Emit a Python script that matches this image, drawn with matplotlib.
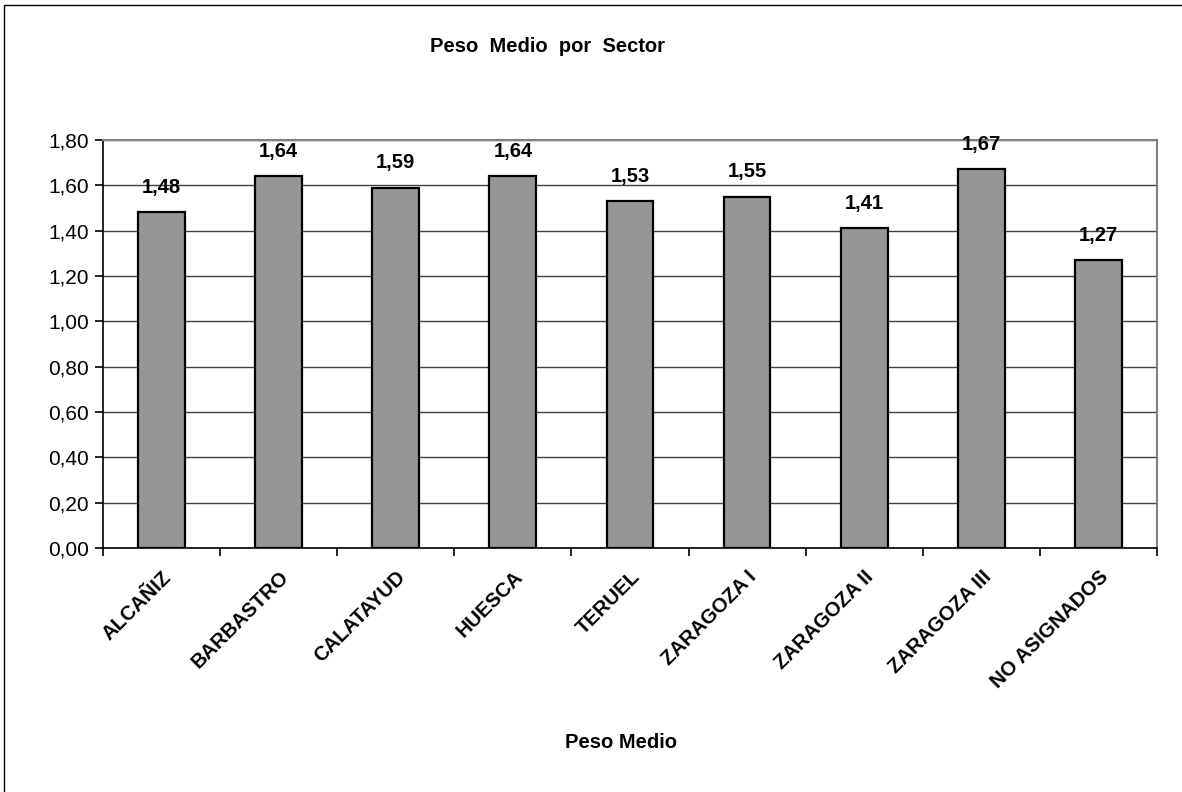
import matplotlib.pyplot as plt
from matplotlib.patches import Rectangle

plt.rcParams['font.family'] = ['Liberation Sans', 'DejaVu Sans']

sectores = ['ALCAÑIZ', 'BARBASTRO', 'CALATAYUD', 'HUESCA', 'TERUEL',
            'ZARAGOZA I', 'ZARAGOZA II', 'ZARAGOZA III', 'NO ASIGNADOS']
peso_medio = [1.48, 1.64, 1.59, 1.64, 1.53, 1.55, 1.41, 1.67, 1.27]
y_ticks = [0.0, 0.2, 0.4, 0.6, 0.8, 1.0, 1.2, 1.4, 1.6, 1.8]

fig = plt.figure(figsize=(11.82, 7.92), dpi=100)
ax = fig.add_axes([0.0871, 0.3081, 0.8917, 0.5152])

# marco exterior
fig.patches.append(Rectangle((4 / 1182, -0.01), 1.2, (792 - 5) / 792 + 0.01,
                             transform=fig.transFigure, fill=False,
                             edgecolor='black', linewidth=1.0))

x = list(range(len(sectores)))
ax.bar(x, peso_medio, width=0.40, color='#969696', edgecolor='black',
       linewidth=1.6, zorder=3)

for xi, v in zip(x, peso_medio):
    ax.annotate(f'{v:.2f}'.replace('.', ','), (xi, v), xytext=(0, 18),
                textcoords='offset points', ha='center', va='center',
                fontsize=14.5, fontweight='bold', zorder=4)

ax.set_xlim(-0.5, len(sectores) - 0.5)
ax.set_ylim(0, 1.8)
ax.set_yticks(y_ticks)
ax.set_yticklabels([f'{t:.2f}'.replace('.', ',') for t in y_ticks], fontsize=15)
ax.yaxis.grid(True, color='#404040', linewidth=1.0, zorder=0)

ax.set_xticks([i - 0.5 for i in range(len(sectores) + 1)])
ax.set_xticklabels([])
ax.set_xticks(x, minor=True)
ax.set_xticklabels(sectores, minor=True, rotation=45, ha='right',
                   rotation_mode='anchor', fontsize=14.5, fontweight='bold')
ax.tick_params(axis='x', which='minor', length=0, pad=14)
ax.tick_params(axis='x', which='major', length=6, width=1.2, direction='out')
ax.tick_params(axis='y', length=6, width=1.2, direction='out', pad=4)

for s in ['left', 'bottom']:
    ax.spines[s].set_color('black')
    ax.spines[s].set_linewidth(1.2)
for s in ['top', 'right']:
    ax.spines[s].set_color('#808080')
    ax.spines[s].set_linewidth(1.5)

fig.text(548 / 1182, 1 - 47 / 792, 'Peso  Medio  por  Sector', ha='center',
         va='center', fontsize=14.5, fontweight='bold')
fig.text(621 / 1182, 1 - 742 / 792, 'Peso Medio', ha='center', va='center',
         fontsize=14.5, fontweight='bold')

fig.savefig('out.png', dpi=100)
